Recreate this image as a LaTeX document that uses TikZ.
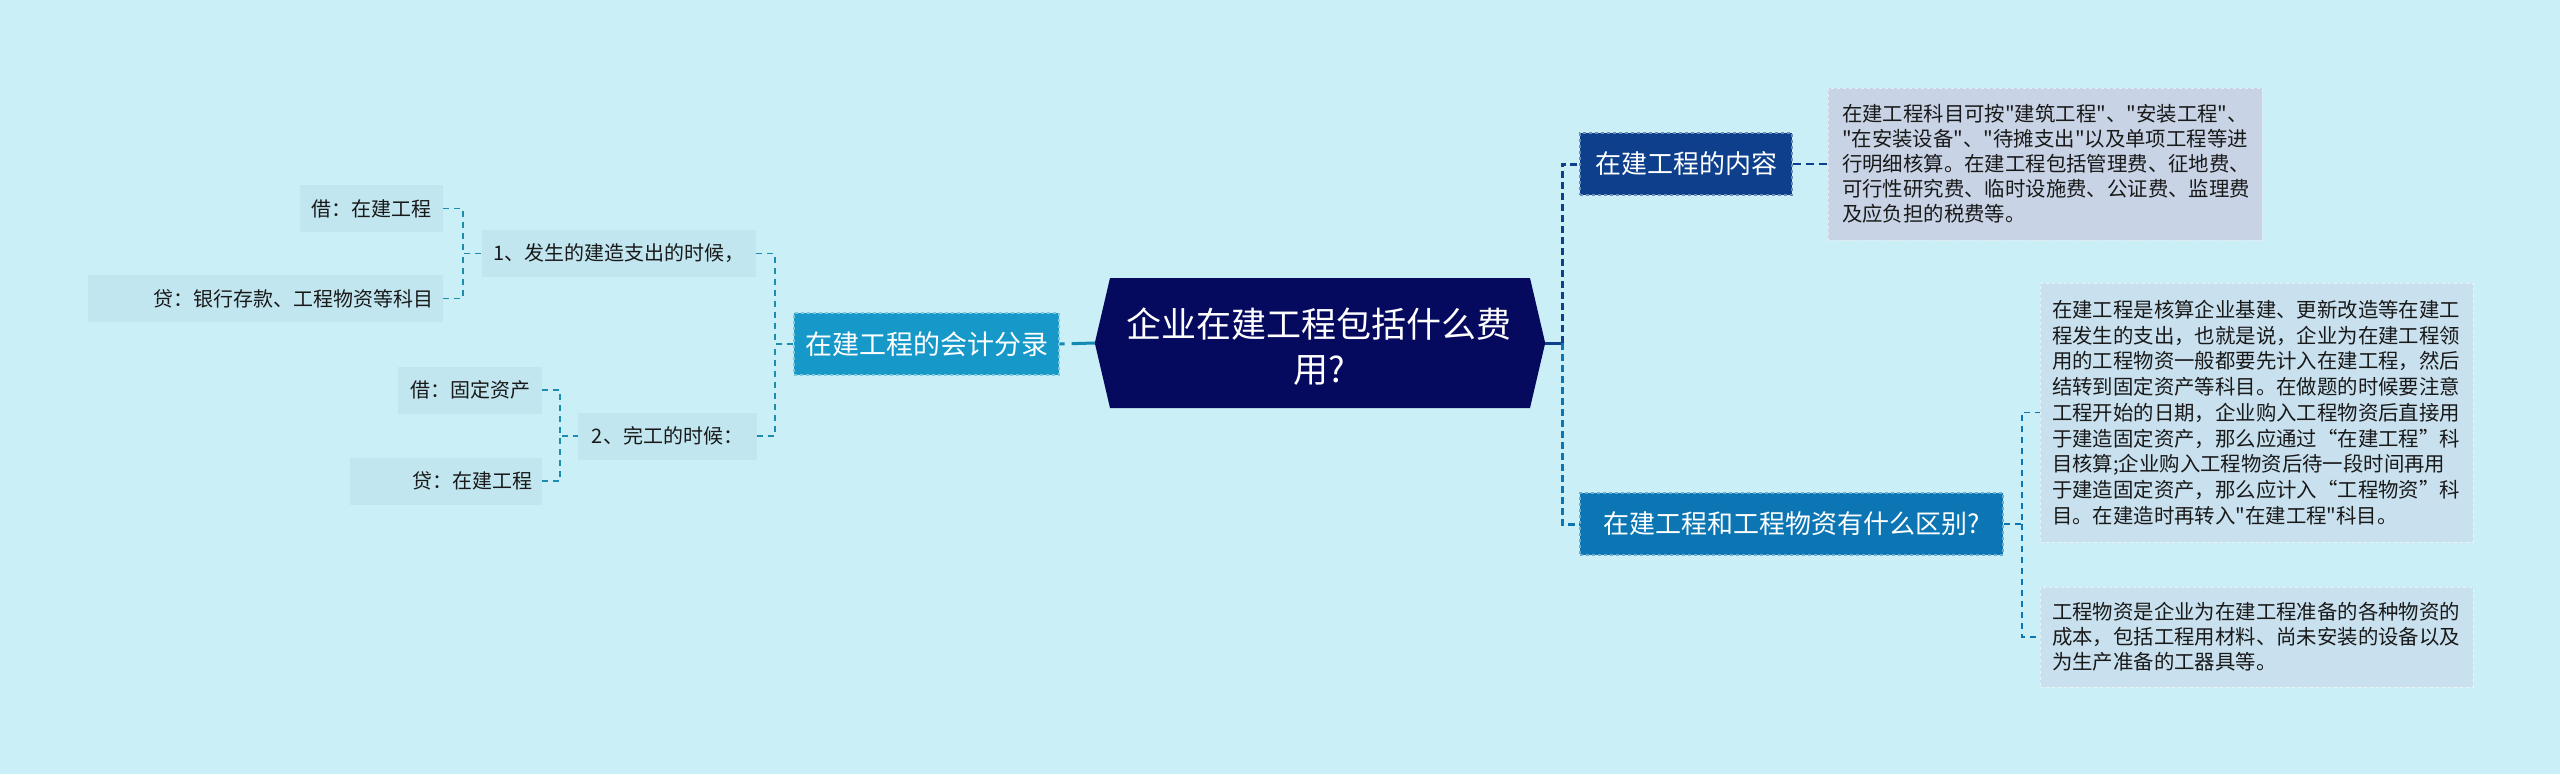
\documentclass[tikz,border=0pt]{standalone}
\usepackage{fontspec}
\setmainfont{Noto Sans CJK SC}[Ligatures=TeXOff]
\newfontfamily\cjk{Noto Sans CJK SC}
\definecolor{bgc}{RGB}{202,239,247}
\definecolor{navyc}{RGB}{5,10,95}
\definecolor{dbluec}{RGB}{13,63,140}
\definecolor{mbluec}{RGB}{12,118,180}
\definecolor{cbluec}{RGB}{22,152,200}
\definecolor{linkc}{RGB}{30,140,175}
\definecolor{labfill}{RGB}{193,230,240}
\definecolor{tafill}{RGB}{200,212,230}
\definecolor{tbfill}{RGB}{201,225,238}
\definecolor{txtc}{RGB}{25,25,25}
\tikzset{
  branchbox/.style={draw, dashed, line width=1.3pt, inner sep=0pt, minimum height=62pt, text=white},
  textbox/.style={draw=white!60!tbfill, dashed, line width=1pt, inner sep=0pt, align=left, text=txtc},
  labbox/.style={fill=labfill, inner sep=0pt, minimum height=47pt, text=txtc, font=\cjk\fontsize{20}{24}\selectfont},
  thinlink/.style={linkc, line width=1.6pt, dash pattern=on 6pt off 5pt},
  thicklink/.style={line width=3pt, dash pattern=on 7pt off 4pt},
}
\begin{document}
\begin{tikzpicture}[x=1pt,y=-1pt]
\fill[bgc] (0,0) rectangle (2560,774);
\useasboundingbox (0,0) rectangle (2560,774);

% central node
\node[minimum width=450pt, minimum height=130pt, inner sep=0pt] (c) at (1320,343) {};
\fill[navyc] (c.west) -- (1110,278) -- (1530,278) -- (c.east) -- (1530,408) -- (1110,408) -- cycle;
\node[align=center, text=white, font=\cjk\fontsize{35}{45}\selectfont] (ctext) at (1319,347) {企业在建工程包括什么费\\用?};

% first-level nodes
\node[branchbox, fill=cbluec, draw=cbluec!55!white, minimum width=265pt, font=\cjk\fontsize{27}{32}\selectfont] (acc) at (926.5,344) {在建工程的会计分录};
\node[branchbox, fill=dbluec, draw=dbluec!60!white, minimum width=212pt, font=\cjk\fontsize{26}{30}\selectfont] (r1) at (1686,164) {在建工程的内容};
\node[branchbox, fill=mbluec, draw=mbluec!60!white, minimum width=423pt, font=\cjk\fontsize{26}{30}\selectfont] (r2) at (1791.5,524) {在建工程和工程物资有什么区别?};

% right text boxes
\node[textbox, fill=tafill, draw=white!55!tafill, minimum width=434pt, minimum height=152pt, text width=406pt, font=\cjk\fontsize{20.4}{25}\selectfont] (t1) at (2045,164) {在建工程科目可按"建筑工程"、"安装工程"、\\"在安装设备"、"待摊支出"以及单项工程等进\\行明细核算。在建工程包括管理费、征地费、\\可行性研究费、临时设施费、公证费、监理费\\及应负担的税费等。};
\node[textbox, fill=tbfill, minimum width=433pt, minimum height=259pt, text width=409pt, font=\cjk\fontsize{20.4}{25.75}\selectfont] (t2) at (2256.5,412.5) {在建工程是核算企业基建、更新改造等在建工\\程发生的支出，也就是说，企业为在建工程领\\用的工程物资一般都要先计入在建工程，然后\\结转到固定资产等科目。在做题的时候要注意\\工程开始的日期，企业购入工程物资后直接用\\于建造固定资产，那么应通过“在建工程”科\\目核算;企业购入工程物资后待一段时间再用\\于建造固定资产，那么应计入“工程物资”科\\目。在建造时再转入"在建工程"科目。};
\node[textbox, fill=tbfill, minimum width=433pt, minimum height=100pt, text width=409pt, font=\cjk\fontsize{20.4}{25}\selectfont] (t3) at (2256.5,637) {工程物资是企业为在建工程准备的各种物资的\\成本，包括工程用材料、尚未安装的设备以及\\为生产准备的工器具等。};

% left labels
\node[labbox, minimum width=274pt] (l1) at (619,253.5) {1、发生的建造支出的时候，};
\node[labbox, minimum width=179pt] (l2) at (667.5,436) {2、完工的时候：};
\node[labbox, minimum width=143pt] (la) at (371.5,208.5) {借：在建工程};
\node[labbox, minimum width=355pt, text width=335pt, align=right] (lb) at (265.5,298.5) {贷：银行存款、工程物资等科目};
\node[labbox, minimum width=144pt] (lc) at (470,390) {借：固定资产};
\node[labbox, minimum width=192pt, text width=172pt, align=right] (ld) at (446,481) {贷：在建工程};

% junctions
\coordinate (j1) at (463,253.5);
\coordinate (j2) at (560,436);
\coordinate (j3) at (775,344);
\coordinate (jr) at (1562,343);
\coordinate (jr2) at (2022,524);

% left connectors
\draw[thinlink] (la.east) -| (j1) -- (l1.west);
\draw[thinlink] (lb.east) -| (j1);
\draw[thinlink] (lc.east) -| (j2) -- (l2.west);
\draw[thinlink] (ld.east) -| (j2);
\draw[thinlink] (l1.east) -| (j3) -- (acc.west);
\draw[thinlink] (l2.east) -| (j3);
\draw[cbluec!90!black, line width=3pt, dash pattern=on 5pt off 7pt on 300pt] (acc.east) -- (c.west);

% right connectors
\draw[dbluec, line width=3pt] (c.east) -- (jr);
\draw[thicklink, dbluec] (jr) |- (r1.west);
\draw[thicklink, mbluec] (jr) |- (r2.west);
\draw[dbluec, line width=2pt, dash pattern=on 8pt off 5pt] (r1.east) -- (t1.west);
\draw[mbluec, line width=1.6pt, dash pattern=on 6pt off 5pt] (r2.east) -- (jr2) |- (t2.west);
\draw[mbluec, line width=1.6pt, dash pattern=on 6pt off 5pt] (jr2) |- (t3.west);
\end{tikzpicture}
\end{document}
